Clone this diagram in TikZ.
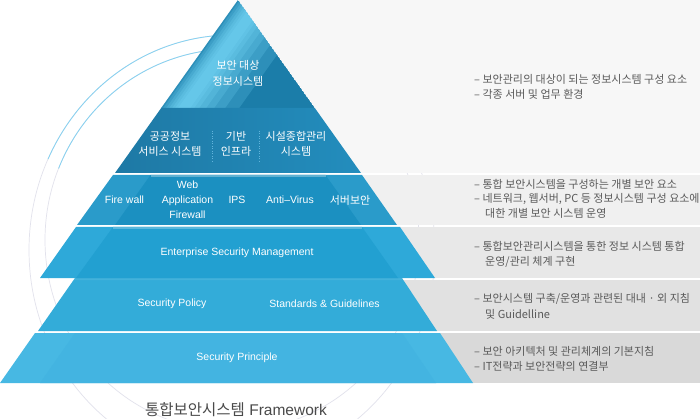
\documentclass[tikz,border=0pt]{standalone}
\usepackage{fontspec}
\setmainfont{Liberation Sans}
\newfontfamily\kofont{Noto Sans CJK KR}
\usetikzlibrary{fadings}
\definecolor{panelA}{HTML}{F7F7F7}
\definecolor{panelB}{HTML}{F0F0F0}
\definecolor{panelC}{HTML}{E8E8E8}
\definecolor{panelD}{HTML}{E1E1E1}
\definecolor{panelE}{HTML}{D9D9D9}
\definecolor{topdark}{HTML}{1B7DA9}
\definecolor{tophi}{HTML}{7FE0FF}
\definecolor{lowleft}{HTML}{1E79A5}
\definecolor{lowright}{HTML}{238DBD}
\definecolor{sepline}{HTML}{4CC1EC}
\definecolor{sepdot}{HTML}{62B4DC}
\definecolor{bandB}{HTML}{2A9BCA}
\definecolor{bandBin}{HTML}{1B90C1}
\definecolor{bandC}{HTML}{2EA9D9}
\definecolor{bandCin}{HTML}{22A0D1}
\definecolor{bandD}{HTML}{33ACD9}
\definecolor{bandE}{HTML}{47B8E3}
\definecolor{bandEin}{HTML}{43B4E1}
\definecolor{arcgrey}{HTML}{E2E2EC}
\definecolor{arcblue}{HTML}{86D2F1}
\definecolor{desctext}{HTML}{5A5A5A}
\definecolor{captext}{HTML}{4A4A4A}
\tikzfading[name=fade ends, left color=transparent!100, middle color=transparent!0, right color=transparent!100]

\begin{document}
\begin{tikzpicture}[x=1pt,y=-1pt,
    lbl/.style={text=white, inner sep=0pt, align=center, font=\fontsize{10.5}{15}\selectfont},
    klbl/.style={lbl, font=\kofont\fontsize{11}{15.5}\selectfont},
    desc/.style={anchor=base west, inner sep=0pt, text=desctext, font=\kofont\fontsize{11}{14}\selectfont},
    ring/.style={arcgrey, line width=0.7pt},
    ringhi/.style={arcblue, line width=0.8pt}]
    \useasboundingbox (0,0) rectangle (700,419);
    \fill[white] (0,0) rectangle (700,419);

    \draw[ring] (232,250) ellipse [x radius=203pt, y radius=215pt];
    \draw[ring] (232,240) ellipse [x radius=187pt, y radius=191pt];
    \draw[ringhi] ([shift={(92:203pt and 215pt)}]232,250) arc [start angle=92, end angle=155, x radius=203pt, y radius=215pt];
    \draw[ringhi] ([shift={(96:187pt and 191pt)}]232,240) arc [start angle=96, end angle=158, x radius=187pt, y radius=191pt];

    \fill[panelA] (238,0) rectangle (700,173);
    \fill[panelB] (238,175) rectangle (700,225);
    \fill[panelC] (238,227) rectangle (700,278);
    \fill[panelD] (238,280) rectangle (700,331);
    \fill[panelE] (238,333) rectangle (700,383);

    \fill[bandE] (35,333) -- (440,333) -- (473,383) -- (0,383) -- cycle;
    \fill[bandEin] (75,333) -- (402,333) -- (436,383) -- (40,383) -- cycle;
    \fill[bandD] (75,278) -- (402,278) -- (437,331) -- (38,331) -- cycle;
    \fill[white, opacity=0.08] (75,278) -- (402,278) -- (403.5,280) -- (73.5,280) -- cycle;
    \fill[bandC] (76,227) -- (400,227) -- (435,278) -- (40,278) -- cycle;
    \fill[bandCin] (113,227) -- (362,227) -- (398,278) -- (76,278) -- cycle;
    \fill[white, opacity=0.25] (113,227) rectangle (362,229);
    \fill[bandB] (113,175) -- (362,175) -- (397,225) -- (77,225) -- cycle;
    \fill[bandBin] (150.5,175) -- (325.5,175) -- (361,225) -- (115,225) -- cycle;
    \fill[white, opacity=0.3] (150.5,175) rectangle (325.5,177);

    \begin{scope}
        \clip (238,0) -- (314.8,108) -- (161.2,108) -- cycle;
        \fill[topdark] (238,0) -- (314.8,108) -- (161.2,108) -- cycle;
        \foreach \a/\b in {0/78, 2/64, 5/53, 8/45, 11/38, 14/33, 17/29}
            \fill[tophi, opacity=0.19] (238+\a,0) -- (238+\b,0) -- (161.2+\b,108) -- (161.2+\a,108) -- cycle;
    \end{scope}
    \shade[left color=lowleft, right color=lowright] (161.2,108) -- (314.8,108) -- (361,173) -- (115,173) -- cycle;
    \fill[sepline, path fading=fade ends] (182,107) rectangle (296,109.5);
    \draw[sepdot, line width=0.5pt, dotted] (212,131) -- (212,162);
    \draw[sepdot, line width=0.5pt, dotted] (259,131) -- (259,162);

    \node[klbl] (target) at (238,73.5) {보안 대상\\정보시스템};
    \node[klbl] (pubsvc) at (170,144) {공공정보\\서비스 시스템};
    \node[klbl] (infra) at (236,144) {기반\\인프라};
    \node[klbl] (facility) at (296,144) {시설종합관리\\시스템};
    \node[lbl] (fw) at (124.5,200) {Fire wall};
    \node[lbl] (waf) at (187.5,200) {Web\\Application\\Firewall};
    \node[lbl] (ips) at (237,200) {IPS};
    \node[lbl] (av) at (290,200) {Anti--Virus};
    \node[klbl] (srv) at (350,200) {서버보안};
    \node[lbl] (esm) at (237,253) {Enterprise Security Management};
    \node[lbl] (policy) at (172,304) {Security Policy};
    \node[lbl] (std) at (324.5,304) {Standards \& Guidelines};
    \node[lbl] (principle) at (237,358) {Security Principle};

    \node[desc] (d1a) at (474,84) {– 보안관리의 대상이 되는 정보시스템 구성 요소};
    \node[desc] (d1b) at (474,99) {– 각종 서버 및 업무 환경};
    \node[desc] (d2a) at (474,189) {– 통합 보안시스템을 구성하는 개별 보안 요소};
    \node[desc] (d2b) at (474,202.5) {– 네트워크, 웹서버, PC 등 정보시스템 구성 요소에};
    \node[desc] (d2c) at (485,218) {대한 개별 보안 시스템 운영};
    \node[desc] (d3a) at (474,250.5) {– 통합보안관리시스템을 통한 정보 시스템 통합};
    \node[desc] (d3b) at (485,265.5) {운영/관리 체계 구현};
    \node[desc] (d4a) at (474,302) {– 보안시스템 구축/운영과 관련된 대내 · 외 지침};
    \node[desc] (d4b) at (485,318) {및 Guidelline};
    \node[desc] (d5a) at (474,355.5) {– 보안 아키텍처 및 관리체계의 기본지침};
    \node[desc] (d5b) at (474,370.5) {– IT전략과 보안전략의 연결부};

    \node[text=captext, inner sep=0pt, font=\fontsize{15.5}{17}\selectfont] (cap) at (236,410) {{\kofont 통합보안시스템} Framework};
\end{tikzpicture}
\end{document}
